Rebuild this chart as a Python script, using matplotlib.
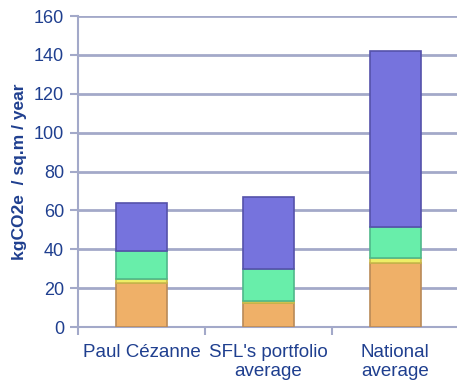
import matplotlib.pyplot as plt
import numpy as np

plt.rcParams['font.family'] = ['Liberation Sans', 'DejaVu Sans']

TEXT = '#1F3F8F'
GRID = '#A3A9C9'

sites = ["Paul Cézanne", "SFL's portfolio\naverage", "National\naverage"]

# stacked components, kgCO2e / sq.m / year (bottom to top)
orange = [22.5, 12.2, 32.8]
yellow = [2.3, 1.2, 2.8]
green = [14.3, 16.4, 15.7]
blue = [24.5, 36.9, 90.8]

layers = [
    (orange, '#EFB068', '#B98A58'),
    (yellow, '#EEEE66', '#C8B84A'),
    (green, '#68EEAA', '#4FB88A'),
    (blue, '#7673DD', '#5552AA'),
]

fig = plt.figure(figsize=(4.57, 3.83), dpi=100)
ax = fig.add_axes([0.1707, 0.1462, 0.833, 0.812])

x = np.arange(len(sites))
bottom = np.zeros(len(sites))
for vals, face, edge in layers:
    ax.bar(x, vals, width=0.4, bottom=bottom, color=face,
           edgecolor=edge, linewidth=1.2, zorder=3)
    bottom += np.array(vals)

ax.set_xlim(-0.5, 2.5)
ax.set_ylim(0, 160)
ax.set_yticks(range(0, 161, 20))
ax.yaxis.grid(True, color=GRID, linewidth=2, zorder=0)
ax.set_axisbelow(True)

for s in ['top', 'right']:
    ax.spines[s].set_visible(False)
for s in ['left', 'bottom']:
    ax.spines[s].set_color(GRID)
    ax.spines[s].set_linewidth(1.5)

ax.set_xticks(x)
ax.set_xticklabels(sites, fontsize=13.5, color=TEXT, linespacing=1.15)
ax.tick_params(axis='x', which='major', length=0, pad=12)
ax.set_xticks([-0.5, 0.5, 1.5, 2.5], minor=True)
ax.tick_params(axis='x', which='minor', length=6, width=1.5, color=GRID)
ax.tick_params(axis='y', length=6, width=1.5, color=GRID,
               labelsize=13, labelcolor=TEXT, pad=4)

ax.set_ylabel('kgCO2e  / sq.m / year', fontsize=12.5, fontweight='bold',
              color=TEXT, labelpad=5)

fig.savefig('out.png', dpi=100)
